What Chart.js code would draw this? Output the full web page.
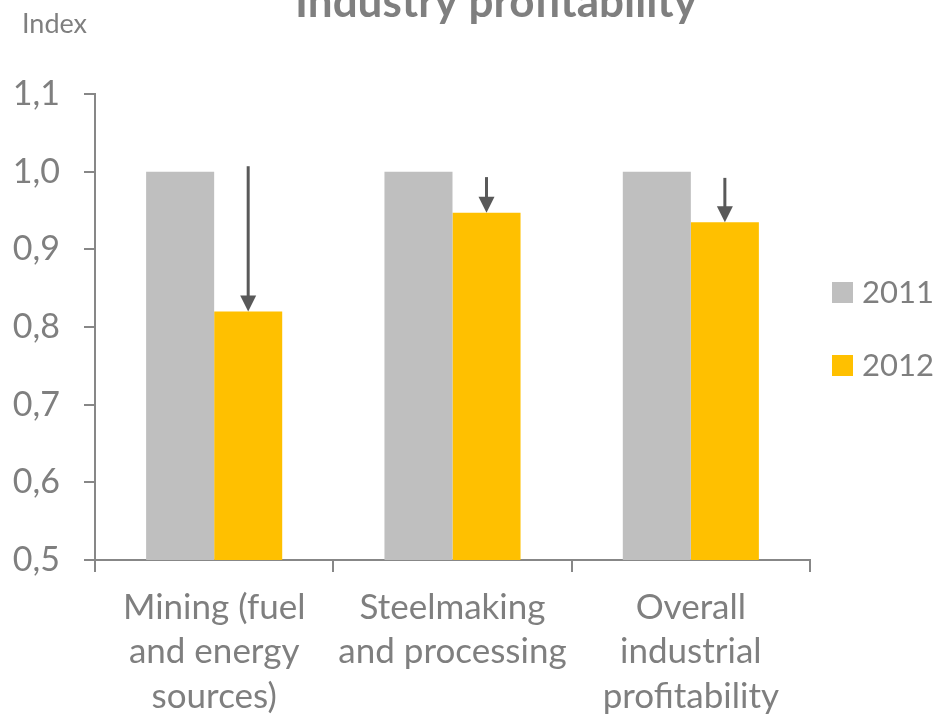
<!DOCTYPE html>
<html>
<head>
<meta charset="utf-8">
<script src="https://cdn.jsdelivr.net/npm/chart.js@4"></script>
<style>
  html, body { margin: 0; padding: 0; background: #fff; }
  #wrap { width: 938px; height: 715px; }
</style>
</head>
<body>
<div id="wrap"><canvas id="profitChart" width="938" height="715"></canvas></div>
<script>
// === DATA ===
const categories = [
  ['Mining (fuel', 'and energy', 'sources)'],
  ['Steelmaking', 'and processing'],
  ['Overall', 'industrial', 'profitability']
];
const years = ['2011', '2012'];
const values2011 = [1.0, 1.0, 1.0];
const values2012 = [0.82, 0.947, 0.935];
// where each drop arrow starts (it ends on top of the 2012 bar)
const arrowFrom = [1.007, 0.993, 0.992];
const yTicks = [0.5, 0.6, 0.7, 0.8, 0.9, 1.0, 1.1];

const FONT = 'Lato, "Open Sans", sans-serif';
const TEXT = '#7f7f7f';
const AXIS = '#878787';
const colors = ['#bfbfbf', '#ffc000'];

// === ARROWS, TITLE, LEGEND ===
const extras = {
  id: 'extras',
  afterDatasetsDraw(chart) {
    const c = chart.ctx;
    const y = chart.scales.y;
    const meta = chart.getDatasetMeta(1);
    c.save();
    c.strokeStyle = '#595959';
    c.fillStyle = '#595959';
    c.lineWidth = 3;
    meta.data.forEach((bar, i) => {
      const x = bar.x;
      const y0 = y.getPixelForValue(arrowFrom[i]);
      const y1 = y.getPixelForValue(values2012[i]);
      c.beginPath();
      c.moveTo(x, y0);
      c.lineTo(x, y1 - 14);
      c.stroke();
      c.beginPath();
      c.moveTo(x - 8, y1 - 16);
      c.lineTo(x + 8, y1 - 16);
      c.lineTo(x, y1);
      c.closePath();
      c.fill();
    });
    c.restore();
  },
  afterDraw(chart) {
    const c = chart.ctx;
    c.save();
    c.fillStyle = TEXT;
    c.textBaseline = 'alphabetic';
    c.textAlign = 'center';
    c.font = 'bold 44px ' + FONT;
    c.fillText('Industry profitability', 496, 17);
    c.textAlign = 'left';
    c.font = '27px ' + FONT;
    c.fillText('Index', 22, 33);

    // legend
    const ly = [293, 366];
    c.font = '31px ' + FONT;
    c.textBaseline = 'middle';
    years.forEach((yr, i) => {
      c.fillStyle = colors[i];
      c.fillRect(832, ly[i] - 11, 21, 21);
      c.fillStyle = TEXT;
      c.fillText(yr, 862, ly[i]);
    });
    c.restore();
  }
};

const ctx = document.getElementById('profitChart');
new Chart(ctx, {
  type: 'bar',
  data: {
    labels: categories,
    datasets: [
      { label: years[0], data: values2011, backgroundColor: colors[0] },
      { label: years[1], data: values2012, backgroundColor: colors[1] }
    ]
  },
  options: {
    responsive: false,
    animation: false,
    layout: { padding: { top: 94, right: 128, left: 0, bottom: 0 } },
    datasets: {
      bar: { categoryPercentage: 0.571, barPercentage: 1.0 }
    },
    plugins: {
      legend: { display: false },
      title: { display: false },
      tooltip: { enabled: false }
    },
    scales: {
      x: {
        afterFit(scale) { scale.height = 155; },
        border: { color: AXIS, width: 2 },
        grid: {
          offset: true,
          drawOnChartArea: false,
          drawTicks: true,
          tickLength: 12,
          tickColor: AXIS,
          lineWidth: 2
        },
        ticks: {
          color: TEXT,
          padding: 14,
          maxRotation: 0,
          autoSkip: false,
          font: { family: FONT, size: 35, lineHeight: 1.26 }
        }
      },
      y: {
        min: 0.5,
        max: 1.1,
        afterFit(scale) { scale.width = 95; },
        afterBuildTicks(scale) {
          scale.ticks = yTicks.map(v => ({ value: v }));
        },
        border: { color: AXIS, width: 2 },
        grid: {
          drawOnChartArea: false,
          drawTicks: true,
          tickLength: 11,
          tickColor: AXIS,
          lineWidth: 2
        },
        ticks: {
          color: TEXT,
          padding: 24,
          font: { family: FONT, size: 34 },
          callback: v => v.toFixed(1).replace('.', ',')
        }
      }
    }
  },
  plugins: [extras]
});
</script>
</body>
</html>
